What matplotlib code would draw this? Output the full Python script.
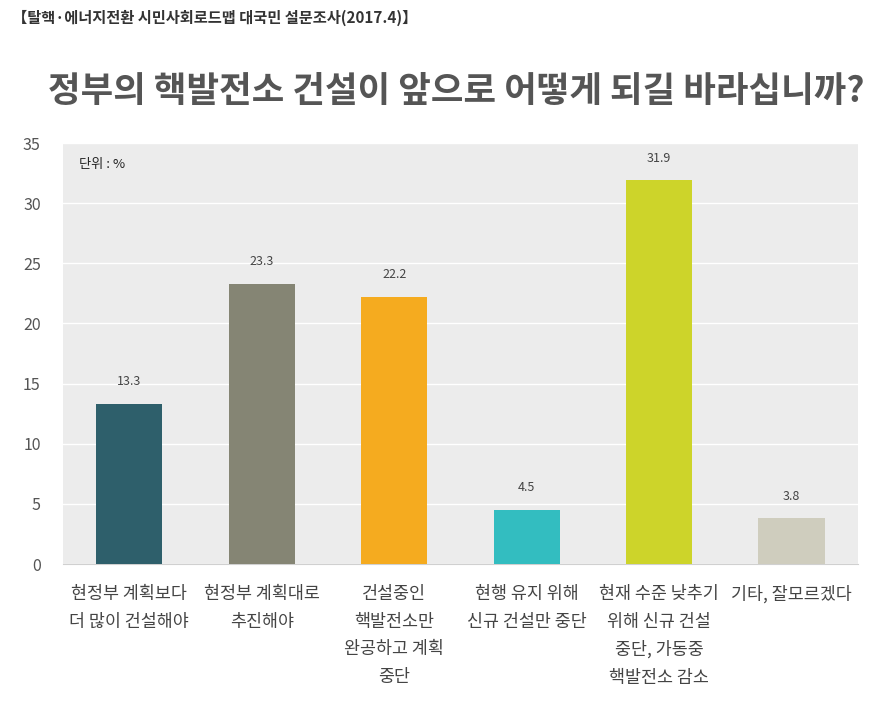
import matplotlib
matplotlib.use('Agg')
import matplotlib.pyplot as plt

plt.rcParams['font.family'] = ['Noto Sans CJK KR', 'DejaVu Sans']

categories = ['현정부 계획보다\n더 많이 건설해야',
              '현정부 계획대로\n추진해야',
              '건설중인\n핵발전소만\n완공하고 계획\n중단',
              '현행 유지 위해\n신규 건설만 중단',
              '현재 수준 낮추기\n위해 신규 건설\n중단, 가동중\n핵발전소 감소',
              '기타, 잘모르겠다']
values = [13.3, 23.3, 22.2, 4.5, 31.9, 3.8]
colors = ['#2e5f6b', '#858574', '#f5ab1f', '#33bdc0', '#cdd42a', '#cfcdbe']
yticks = [0, 5, 10, 15, 20, 25, 30, 35]

fig = plt.figure(figsize=(8.89, 7.01), dpi=100)
ax = fig.add_axes([0.0709, 0.1954, 0.894, 0.6006])
ax.set_facecolor('#ececec')

x = list(range(len(values)))
ax.bar(x, values, width=0.5, color=colors, zorder=3)
for xi, v in zip(x, values):
    ax.text(xi, v + 1.3, f'{v}', ha='center', va='bottom', fontsize=9, color='#444444')

ax.set_xlim(-0.5, 5.5)
ax.set_ylim(0, 35)
ax.set_yticks(yticks)
ax.yaxis.grid(True, color='white', linewidth=1, zorder=1)
ax.set_axisbelow(True)
for s in ['top', 'right', 'left']:
    ax.spines[s].set_visible(False)
ax.spines['bottom'].set_color('#d0d0d0')
ax.tick_params(axis='y', length=0, labelsize=11.5, labelcolor='#555555', pad=16)
ax.tick_params(axis='x', length=0, pad=15)
ax.set_xticks(x)
ax.set_xticklabels(categories, fontsize=12.5, color='#444444', linespacing=1.7, va='top')

ax.text(0.02, 0.965, '단위 : %', transform=ax.transAxes, fontsize=9.5, color='#222222', va='top')

fig.text(0.014, 0.975, '【탈핵·에너지전환 시민사회로드맵 대국민 설문조사(2017.4)】',
         fontsize=11, fontweight='bold', color='#333333', va='center', ha='left')
fig.text(0.513, 0.869, '정부의 핵발전소 건설이 앞으로 어떻게 되길 바라십니까?',
         fontsize=25.5, fontweight='bold', color='#555555', va='center', ha='center')

fig.savefig('out.png', dpi=100, facecolor='white')
